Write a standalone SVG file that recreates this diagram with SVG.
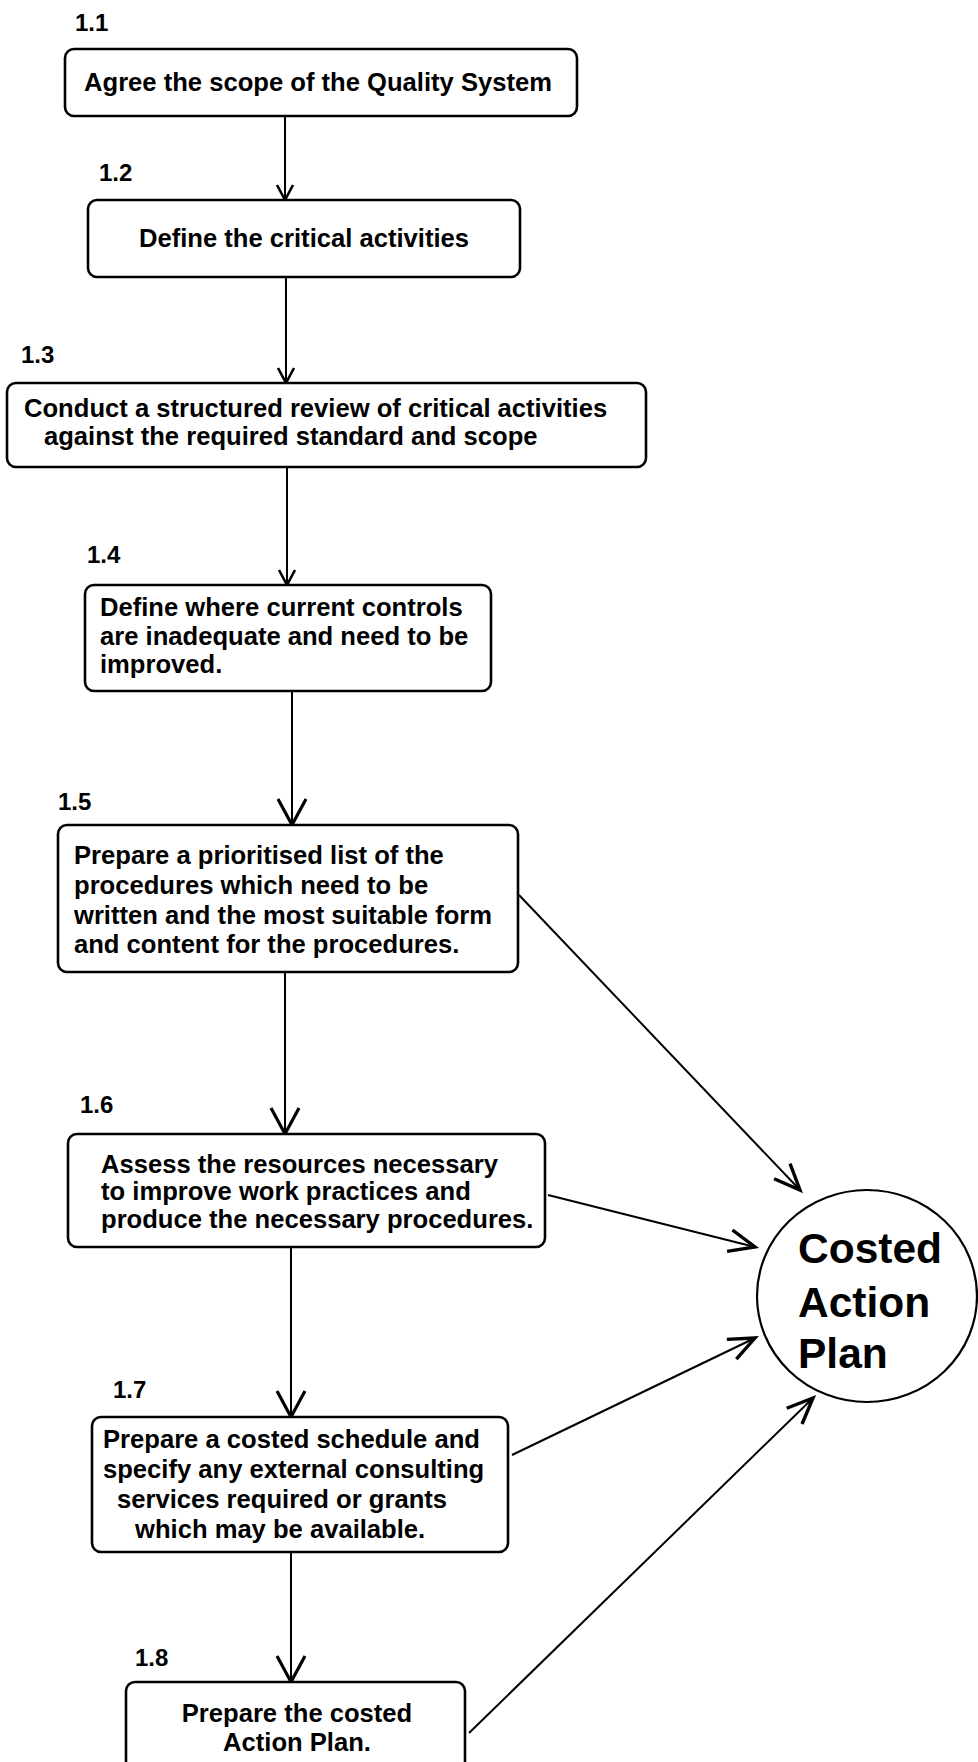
<svg xmlns="http://www.w3.org/2000/svg" width="978" height="1762" viewBox="0 0 978 1762">
<style>
.box{fill:#fff;stroke:#000;stroke-width:2.6}
.t{font-family:"Liberation Sans",Arial,sans-serif;font-weight:bold;font-size:25.6px;fill:#000}
.lbl{font-family:"Liberation Sans",Arial,sans-serif;font-weight:bold;font-size:24px;fill:#000}
.big{font-family:"Liberation Sans",Arial,sans-serif;font-weight:bold;font-size:42.5px;fill:#000}
.c{stroke:#000;stroke-width:2;fill:none}
.cs{marker-end:url(#arrS)}
.cl{marker-end:url(#arrL)}
.cd{marker-end:url(#arrD)}
</style>
<defs>
<marker id="arrS" markerUnits="userSpaceOnUse" viewBox="-20 -10 22 20" refX="0" refY="0" markerWidth="22" markerHeight="20" orient="auto" overflow="visible">
<path d="M-15,-8 L0,0 L-15,8" fill="none" stroke="#000" stroke-width="2.6"/>
</marker>
<marker id="arrL" markerUnits="userSpaceOnUse" viewBox="-30 -16 32 32" refX="0" refY="0" markerWidth="32" markerHeight="32" orient="auto" overflow="visible">
<path d="M-26,-14 L0,0 L-26,14" fill="none" stroke="#000" stroke-width="3.2"/>
</marker>
<marker id="arrD" markerUnits="userSpaceOnUse" viewBox="-30 -16 32 32" refX="0" refY="0" markerWidth="32" markerHeight="32" orient="auto" overflow="visible">
<path d="M-26,-11 L0,0 L-26,11" fill="none" stroke="#000" stroke-width="3.4"/>
</marker>
</defs>
<rect width="978" height="1762" fill="#fff"/>

<g id="connectors">
<line class="c cs" x1="285" y1="116" x2="285" y2="200"/>
<line class="c cs" x1="286" y1="277" x2="286" y2="383"/>
<line class="c cs" x1="287" y1="467" x2="287" y2="585"/>
<line class="c cl" x1="292" y1="691" x2="292" y2="825"/>
<line class="c cl" x1="285" y1="972" x2="285" y2="1134"/>
<line class="c cl" x1="291" y1="1247" x2="291" y2="1417"/>
<line class="c cl" x1="291" y1="1552" x2="291" y2="1682"/>
<line class="c cd" x1="519" y1="895" x2="800" y2="1190"/>
<line class="c cd" x1="548" y1="1195" x2="755" y2="1247"/>
<line class="c cd" x1="512" y1="1455" x2="755" y2="1338"/>
<line class="c cd" x1="469" y1="1733" x2="813" y2="1398"/>
</g>

<g id="n1_1">
<text class="lbl" x="75" y="31">1.1</text>
<rect class="box" x="65" y="49" width="512" height="67" rx="9"/>
<text class="t" x="318" y="91" text-anchor="middle">Agree the scope of the Quality System</text>
</g>

<g id="n1_2">
<text class="lbl" x="99" y="181">1.2</text>
<rect class="box" x="88" y="200" width="432" height="77" rx="9"/>
<text class="t" x="304" y="247" text-anchor="middle">Define the critical activities</text>
</g>

<g id="n1_3">
<text class="lbl" x="21" y="363">1.3</text>
<rect class="box" x="7" y="383" width="639" height="84" rx="9"/>
<text class="t" x="24" y="417">Conduct a structured review of critical activities</text>
<text class="t" x="44" y="445">against the required standard and scope</text>
</g>

<g id="n1_4">
<text class="lbl" x="87" y="563">1.4</text>
<rect class="box" x="85" y="585" width="406" height="106" rx="9"/>
<text class="t" x="100" y="616">Define where current controls</text>
<text class="t" x="100" y="645">are inadequate and need to be</text>
<text class="t" x="100" y="673">improved.</text>
</g>

<g id="n1_5">
<text class="lbl" x="58" y="810">1.5</text>
<rect class="box" x="58" y="825" width="460" height="147" rx="9"/>
<text class="t" x="74" y="864">Prepare a prioritised list of the</text>
<text class="t" x="74" y="894">procedures which need to be</text>
<text class="t" x="74" y="924">written and the most suitable form</text>
<text class="t" x="74" y="953">and content for the procedures.</text>
</g>

<g id="n1_6">
<text class="lbl" x="80" y="1113">1.6</text>
<rect class="box" x="68" y="1134" width="477" height="113" rx="9"/>
<text class="t" x="101" y="1173">Assess the resources necessary</text>
<text class="t" x="101" y="1200">to improve work practices and</text>
<text class="t" x="101" y="1228">produce the necessary procedures.</text>
</g>

<g id="n1_7">
<text class="lbl" x="113" y="1398">1.7</text>
<rect class="box" x="92" y="1417" width="416" height="135" rx="9"/>
<text class="t" x="103" y="1448">Prepare a costed schedule and</text>
<text class="t" x="103" y="1478">specify any external consulting</text>
<text class="t" x="117" y="1508">services required or grants</text>
<text class="t" x="135" y="1538">which may be available.</text>
</g>

<g id="n1_8">
<text class="lbl" x="135" y="1666">1.8</text>
<rect class="box" x="126" y="1682" width="339" height="100" rx="9"/>
<text class="t" x="297" y="1722" text-anchor="middle">Prepare the costed</text>
<text class="t" x="297" y="1751" text-anchor="middle">Action Plan.</text>
</g>

<g id="costed_action_plan">
<ellipse cx="867" cy="1296" rx="110" ry="106" fill="#fff" stroke="#000" stroke-width="2.2"/>
<text class="big" x="798" y="1263">Costed</text>
<text class="big" x="798" y="1317">Action</text>
<text class="big" x="798" y="1368">Plan</text>
</g>
</svg>
